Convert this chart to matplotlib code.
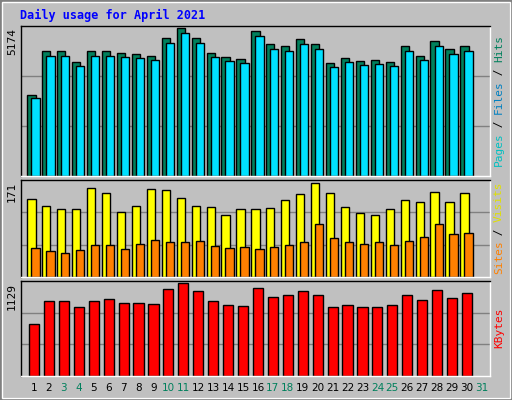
import matplotlib
matplotlib.use("Agg")
import matplotlib.pyplot as plt
from matplotlib.patches import Rectangle

days = list(range(1, 31))
hits_px = [96,52,52,63,52,52,54,55,57,39,29,39,54,58,60,32,45,47,40,45,64,59,62,61,63,47,57,42,50,47]
hits = [round(5174*(176-y)/149) for y in hits_px]
files = [round(h*0.965) for h in hits]
visits_px = [200,206,210,210,189,194,213,206,190,191,199,206,208,216,210,210,209,201,195,184,194,208,214,215,210,201,203,193,203,194]
visits = [round(171*(277-y)/96) for y in visits_px]
sites_px = [248,251,253,250,245,245,249,244,240,242,242,241,246,248,247,249,247,245,242,225,239,242,244,243,245,241,237,224,235,233]
sites = [round(171*(277-y)/96) for y in sites_px]
kb_px = [325,302,302,308,302,300,304,304,305,290,284,292,302,306,307,289,298,296,292,296,308,306,308,308,306,296,301,291,299,294]
kbytes = [round(1129*(376-y)/94) for y in kb_px]
weekend = [3,4,10,11,17,18,24,25,31]

W, H = 512, 400
fig = plt.figure(figsize=(W/100, H/100), dpi=100)
fig.patch.set_facecolor('#C0C0C0')
mono = 'DejaVu Sans Mono'
fig.add_artist(Rectangle((0,0),1,1,transform=fig.transFigure,fill=False,ec='#808080',lw=3))
fig.add_artist(Rectangle((2/W,2/H),(W-4)/W,(H-4)/H,transform=fig.transFigure,fill=False,ec='white',lw=1))
fig.text(20/W, 1-15/H, 'Daily usage for April 2021', color='#0000FF', family=mono,
         weight='bold', fontsize=8.5, va='center')

x0, x1 = 21, 490
xlim = (0.13, 31.54)
def mkax(top, bot, ymax):
    ax = fig.add_axes([x0/W, 1-bot/H, (x1-x0)/W, (bot-top)/H])
    ax.set_facecolor('#C0C0C0')
    ax.set_xlim(*xlim); ax.set_ylim(0, ymax)
    for s in ax.spines.values():
        s.set_color('black'); s.set_linewidth(1)
    ax.spines['right'].set_color('white'); ax.spines['bottom'].set_color('white')
    ax.set_xticks([]); ax.set_yticks([])
    for f in (1/3, 2/3):
        ax.axhline(ymax*f, color='#808080', lw=1, zorder=0)
    fig.text(12/W, 1-(top+2)/H, str(ymax), rotation=90, ha='center', va='top',
             family=mono, fontsize=8)
    return ax

def rlabel(ax, parts):
    n = sum(len(p) for p,_ in parts)
    pos = ax.get_position()
    yb = (pos.y0 + pos.y1)/2*H - n*6.5/2
    y = yb
    for p, c in parts:
        fig.text(499/W, y/H, p, rotation=90, color=c, family=mono, fontsize=8, ha='center', va='bottom')
        y += len(p)*6.5

ax1 = mkax(26, 176, 5174)
ax1.bar([d-0.17 for d in days], hits, width=0.55, color='#00805C', ec='black', lw=1)
ax1.bar([d+0.1 for d in days], files, width=0.55, color='#00E0FF', ec='black', lw=1)
rlabel(ax1, [('Pages','#00C0C0'),(' / ','#000000'),('Files','#0080C0'),(' / ','#000000'),('Hits','#00805C')])

ax2 = mkax(180, 277, 171)
ax2.bar([d-0.17 for d in days], visits, width=0.55, color='#FFFF00', ec='black', lw=1)
ax2.bar([d+0.1 for d in days], sites, width=0.55, color='#FF8000', ec='black', lw=1)
rlabel(ax2, [('Sites','#FF8000'),(' / ','#000000'),('Visits','#E0E000')])

ax3 = mkax(281, 376, 1129)
ax3.bar(days, kbytes, width=0.68, color='#FF0000', ec='black', lw=1)
rlabel(ax3, [('KBytes','#FF0000')])

for d in range(1, 32):
    fx = (x0 + (d-xlim[0])/(xlim[1]-xlim[0])*(x1-x0))/W
    fig.text(fx, 1-388/H, str(d), ha='center', va='center', family='DejaVu Sans', fontsize=7.5,
             color='#00805C' if d in weekend else 'black')

fig.savefig('out.png', dpi=100, facecolor=fig.get_facecolor())
